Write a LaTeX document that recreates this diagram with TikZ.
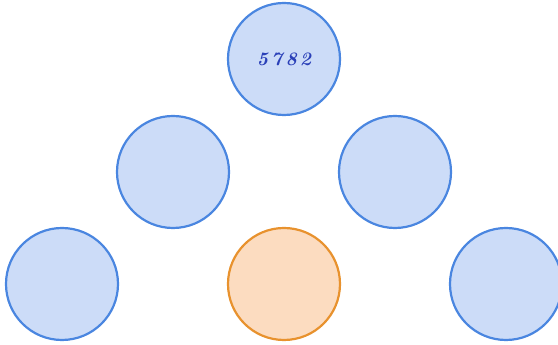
\documentclass[tikz,border=0pt]{standalone}
\begin{document}
\begin{tikzpicture}[x=1pt,y=1pt,
  bnode/.style={circle,draw=blueline,fill=bluefill,line width=2.2pt,minimum size=112pt,inner sep=0pt},
  onode/.style={circle,draw=orangeline,fill=orangefill,line width=2.2pt,minimum size=112pt,inner sep=0pt}]
\definecolor{blueline}{HTML}{4A86E0}
\definecolor{bluefill}{HTML}{CCDCF8}
\definecolor{orangeline}{HTML}{E8922E}
\definecolor{orangefill}{HTML}{FCDCC0}
\definecolor{numcol}{HTML}{2A40B8}
\useasboundingbox (0,0) rectangle (558,345);
\node[bnode] (top) at (284,286) {\fontsize{19}{22}\selectfont\bfseries\itshape\color{numcol}5\,7\,8\,2};
\node[bnode] (ml) at (173,173) {};
\node[bnode] (mr) at (395,173) {};
\node[bnode] (bl) at (62,61) {};
\node[onode] (bm) at (284,61) {};
\node[bnode] (br) at (506,61) {};
\end{tikzpicture}
\end{document}
